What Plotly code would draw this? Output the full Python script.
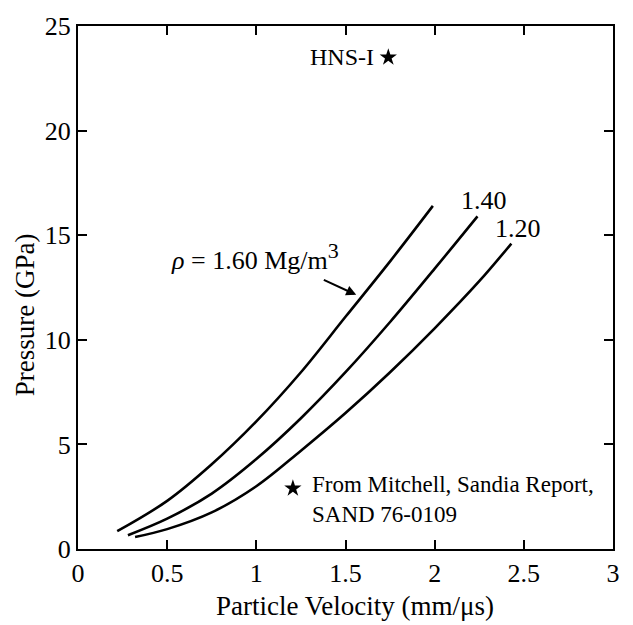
import plotly.graph_objects as go

# ---- data ----
u_160 = [0.22, 0.5, 0.75, 1.0, 1.25, 1.5, 1.75, 1.99]
p_160 = [0.85, 2.3, 4.05, 6.1, 8.45, 11.1, 13.75, 16.4]

u_140 = [0.28, 0.5, 0.75, 1.0, 1.25, 1.5, 1.75, 2.0, 2.24]
p_140 = [0.66, 1.45, 2.65, 4.3, 6.25, 8.45, 10.85, 13.4, 15.9]

u_120 = [0.32, 0.5, 0.75, 1.0, 1.25, 1.5, 1.75, 2.0, 2.25, 2.43]
p_120 = [0.57, 0.95, 1.75, 3.0, 4.7, 6.5, 8.45, 10.55, 12.8, 14.6]

star_hns = (1.74, 23.5)
star_note = (1.205, 2.9)

x_ticks = [0, 0.5, 1, 1.5, 2, 2.5, 3]
x_ticklabels = ["0", "0.5", "1", "1.5", "2", "2.5", "3"]
y_ticks = [0, 5, 10, 15, 20, 25]
y_ticklabels = ["0", "5", "10", "15", "20", "25"]

FONT = "Liberation Serif"

fig = go.Figure()
for u, p in [(u_160, p_160), (u_140, p_140), (u_120, p_120)]:
    fig.add_trace(go.Scatter(x=u, y=p, mode="lines",
                             line=dict(color="black", width=2.6, shape="spline", smoothing=1.0),
                             showlegend=False, hoverinfo="skip"))

fig.add_trace(go.Scatter(x=[star_hns[0], star_note[0]], y=[star_hns[1], star_note[1]],
                         mode="markers", marker=dict(symbol="star", size=13, color="black"),
                         showlegend=False, hoverinfo="skip"))

ann_font = dict(family=FONT, size=24, color="black")
fig.add_annotation(x=star_hns[0], y=star_hns[1], text="HNS-I", showarrow=False,
                   xanchor="right", yanchor="middle", xshift=-12, font=ann_font)
fig.add_annotation(x=1.30, y=2.35, text="From Mitchell, Sandia Report,<br>SAND 76-0109",
                   showarrow=False, xanchor="left", yanchor="middle", align="left",
                   font=dict(family=FONT, size=23, color="black"))
fig.add_annotation(x=0.51, y=14.0,
                   text="<i>ρ</i> = 1.60 Mg/m<sup><span style='font-size:22px'>3</span></sup>",
                   showarrow=False, xanchor="left", yanchor="middle",
                   font=dict(family=FONT, size=26, color="black"))
fig.add_annotation(x=1.56, y=12.15, ax=1.37, ay=12.9, axref="x", ayref="y", xref="x", yref="y",
                   text="", showarrow=True, arrowhead=2, arrowsize=1, arrowwidth=2, arrowcolor="black")
fig.add_annotation(x=2.277, y=16.65, text="1.40", showarrow=False,
                   font=dict(family=FONT, size=26, color="black"))
fig.add_annotation(x=2.468, y=15.33, text="1.20", showarrow=False,
                   font=dict(family=FONT, size=26, color="black"))

# axis titles placed as annotations to match the reference position
fig.add_annotation(xref="paper", yref="paper", x=0.518, y=-0.109, text="Particle Velocity (mm/μs)",
                   showarrow=False, xanchor="center", yanchor="middle",
                   font=dict(family=FONT, size=27, color="black"))
fig.add_annotation(xref="paper", yref="paper", x=-0.099, y=0.447, text="Pressure (GPa)",
                   showarrow=False, xanchor="center", yanchor="middle", textangle=-90,
                   font=dict(family=FONT, size=27, color="black"))

axis_common = dict(showline=True, linewidth=2, linecolor="black", mirror="ticks",
                   ticks="inside", ticklen=9, tickwidth=1.5, tickcolor="black",
                   showgrid=False, zeroline=False,
                   tickfont=dict(family=FONT, size=26, color="black"))

fig.update_xaxes(range=[0, 3], tickvals=x_ticks, ticktext=x_ticklabels, **axis_common)
fig.update_yaxes(range=[0, 25], tickvals=y_ticks, ticktext=y_ticklabels, **axis_common)

fig.update_layout(width=633, height=625, margin=dict(l=78, r=20, t=19, b=76),
                  paper_bgcolor="white", plot_bgcolor="white")

fig.write_html("out.html")
